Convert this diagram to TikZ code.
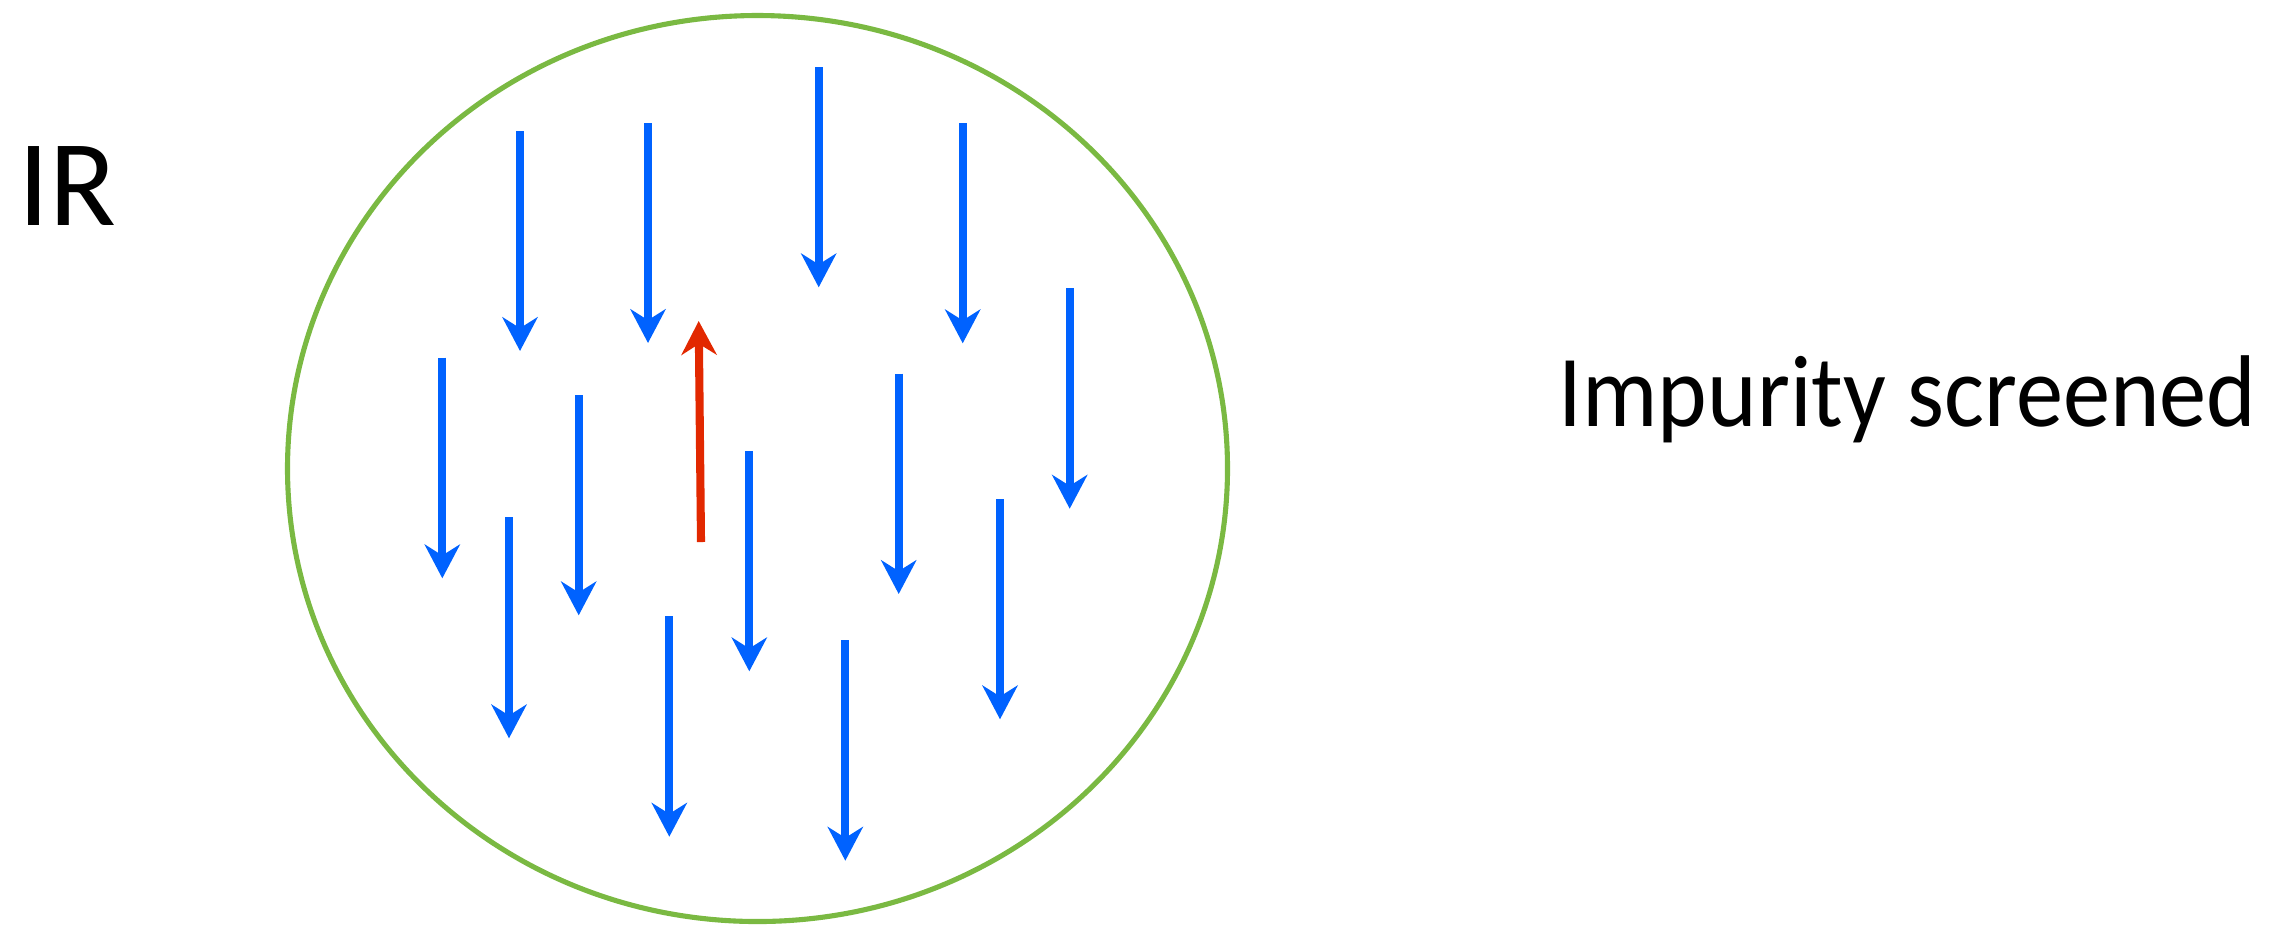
\documentclass[tikz,border=0pt]{standalone}
\usepackage{graphicx}
\usepackage{fontspec}
\setmainfont{Carlito}
\usetikzlibrary{arrows.meta}
\definecolor{spinblue}{RGB}{0,98,255}
\definecolor{spinred}{RGB}{226,40,0}
\definecolor{ringgreen}{RGB}{122,185,66}
\tikzset{
  spin/.style={line width=2.3pt, -{Stealth[length=9.6pt, width=10pt, inset=3.1pt]}},
  upspin/.style={spin, spinblue},
  impspin/.style={spin, spinred},
  label/.style={inner sep=0pt, anchor=base west, text=black},
}
\begin{document}
\begin{tikzpicture}[x=0.01cm, y=-0.01cm]
\useasboundingbox (0,0) rectangle (2280,926);
% screening cloud
\draw[ringgreen, line width=1.45pt] (757.5,468.5) ellipse [x radius=470, y radius=453];
% labels
\node[label, font=\fontsize{35pt}{42pt}\selectfont] (ir) at (18,225) {IR};
\node[label, font=\fontsize{29pt}{35pt}\selectfont] (imp) at (1558,426) {\resizebox{6.97cm}{\height}{Impurity screened}};
% blue spins
\foreach \n/\x/\t/\b in {1/520/131/351, 2/648/123/343, 3/818.7/67/287.3, 4/962.7/123/343.3,
  5/1069.7/288/508.7, 6/442.3/357.7/578.3, 7/578.7/395/615.3, 8/749.3/451/671.3,
  9/898.7/373.7/594, 10/509/517.3/738.3, 11/669.3/616.3/836.7, 12/845.3/640.3/860.7,
  13/1000/499/719.3}{
  \coordinate (s\n a) at (\x,\t);
  \coordinate (s\n b) at (\x,\b);
  \draw[upspin] (s\n a) -- (s\n b);
}
% impurity spin
\coordinate (ra) at (701,542);
\coordinate (rb) at (698.7,321);
\draw[impspin] (ra) -- (rb);
\end{tikzpicture}
\end{document}
